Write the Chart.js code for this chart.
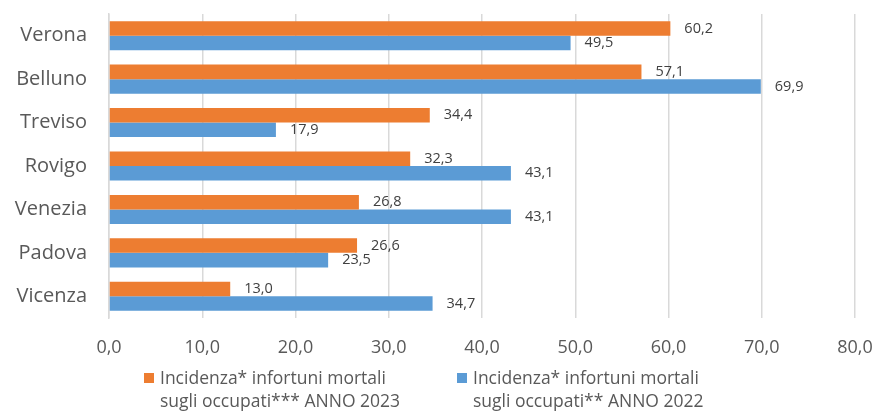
<!DOCTYPE html>
<html>
<head>
<meta charset="utf-8">
<script src="https://cdn.jsdelivr.net/npm/chart.js@4"></script>
<style>
  body { margin: 0; background: #fff; }
  #wrap { position: relative; width: 879px; height: 411px; }
  #legend { position: absolute; top: 366px; left: 0; width: 879px; font-family: "Open Sans", sans-serif; font-size: 17.5px; color: #595959; line-height: 23px; }
  .item { position: absolute; top: 0; }
  .item span.box { position: absolute; left: 0; top: 7px; width: 10px; height: 10px; }
  .item div { margin-left: 16px; white-space: nowrap; }
</style>
</head>
<body>
<div id="wrap">
  <canvas id="myChart" width="879" height="411"></canvas>
  <div id="legend"></div>
</div>
<script>
const province = ['Verona', 'Belluno', 'Treviso', 'Rovigo', 'Venezia', 'Padova', 'Vicenza'];
const anno2023 = [60.2, 57.1, 34.4, 32.3, 26.8, 26.6, 13.0];
const anno2022 = [49.5, 69.9, 17.9, 43.1, 43.1, 23.5, 34.7];
const etichette = [
    ['Incidenza* infortuni mortali', 'sugli occupati*** ANNO 2023'],
    ['Incidenza* infortuni mortali', 'sugli occupati** ANNO 2022']
];
const coloreArancio = '#ED7D31';
const coloreBlu = '#5B9BD5';
const fmt = v => v.toFixed(1).replace('.', ',');

// etichette dei valori accanto alle barre
const valoriPlugin = {
    id: 'valori',
    afterDatasetsDraw(chart) {
        const ctx = chart.ctx;
        ctx.save();
        ctx.font = '14.5px "Open Sans", sans-serif';
        ctx.fillStyle = '#404040';
        ctx.textBaseline = 'middle';
        ctx.textAlign = 'left';
        chart.data.datasets.forEach((ds, i) => {
            chart.getDatasetMeta(i).data.forEach((bar, j) => {
                ctx.fillText(fmt(ds.data[j]), bar.x + 14, bar.y);
            });
        });
        ctx.restore();
    }
};

const ctx = document.getElementById('myChart').getContext('2d');
const sensorsChart = new Chart(ctx, {
    type: 'bar',
    data: {
        labels: province,
        datasets: [
            { label: etichette[0].join(' '), data: anno2023, backgroundColor: coloreArancio },
            { label: etichette[1].join(' '), data: anno2022, backgroundColor: coloreBlu }
        ]
    },
    options: {
        indexAxis: 'y',
        responsive: false,
        animation: false,
        layout: { padding: { top: 14, right: 24, left: 0, bottom: 0 } },
        categoryPercentage: 0.67,
        barPercentage: 1.0,
        plugins: {
            legend: { display: false },
            tooltip: { enabled: false }
        },
        scales: {
            x: {
                min: 0,
                max: 80,
                ticks: {
                    stepSize: 10,
                    padding: 19,
                    color: '#595959',
                    font: { family: '"Open Sans", sans-serif', size: 18 },
                    callback: v => fmt(v)
                },
                grid: { color: '#D9D9D9', lineWidth: 1.5, drawTicks: false },
                border: { display: false },
                afterFit(scale) {
                    scale.height = 93;
                    scale.paddingLeft = 0;
                    scale.paddingRight = 0;
                }
            },
            y: {
                ticks: {
                    padding: 22,
                    color: '#595959',
                    font: { family: '"Open Sans", sans-serif', size: 20 }
                },
                grid: { display: false, drawTicks: false },
                border: { color: '#D9D9D9', width: 1.5 },
                afterFit(scale) {
                    scale.width = 109;
                    scale.paddingTop = 0;
                    scale.paddingBottom = 0;
                }
            }
        }
    },
    plugins: [valoriPlugin]
});

const legenda = document.getElementById('legend');
[[coloreArancio, 144], [coloreBlu, 457]].forEach((c, i) => {
    const el = document.createElement('div');
    el.className = 'item';
    el.style.left = c[1] + 'px';
    el.innerHTML = '<span class="box" style="background:' + c[0] + '"></span><div>' + etichette[i].join('<br>') + '</div>';
    legenda.appendChild(el);
});
</script>
</body>
</html>
